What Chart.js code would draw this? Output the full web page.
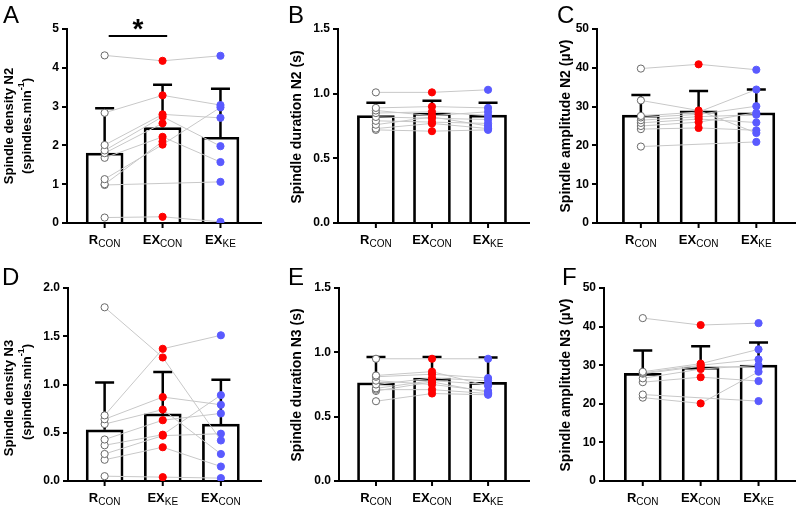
<!DOCTYPE html>
<html>
<head>
<meta charset="utf-8">
<script src="https://cdn.jsdelivr.net/npm/chart.js@4.4.1/dist/chart.umd.min.js"></script>
<style>
body { margin: 0; background: #fff; width: 800px; height: 506px; position: relative; overflow: hidden; }
canvas { position: absolute; }
</style>
</head>
<body>
<script>
// category labels (main text + subscript)
var catMain = ['R', 'EX', 'EX'];
var catSub = ['CON', 'CON', 'KE'];
var catSubD = ['CON', 'KE', 'CON'];

// A - spindle density N2 (per subject, columns in axis order)
var aCol1 = [4.32, 2.84, 2.01, 1.87, 1.80, 1.68, 1.13, 1.00, 0.98, 0.14];
var aCol2 = [4.18, 3.29, 2.80, 2.74, 2.57, 2.22, 2.02, 2.10, null, 0.16];
var aCol3 = [4.31, 3.04, 2.71, 1.98, null, 1.57, 2.98, null, 1.06, 0.03];
var aMean = [1.80, 2.46, 2.21];
var aSd = [1.16, 1.10, 1.25];

// B - spindle duration N2
var bCol1 = [1.01, 0.89, 0.87, 0.85, 0.82, 0.79, 0.76, 0.73, 0.72];
var bCol2 = [1.01, 0.90, 0.83, 0.86, 0.81, 0.78, 0.82, 0.77, 0.71];
var bCol3 = [1.03, 0.89, 0.86, 0.83, 0.80, 0.77, 0.75, 0.73, 0.72];
var bMean = [0.83, 0.85, 0.835];
var bSd = [0.10, 0.095, 0.095];

// C - spindle amplitude N2
var cCol1 = [39.8, 31.6, 27.6, 27.2, 26.5, 25.8, 25.0, 24.2, 19.7];
var cCol2 = [40.9, 29.0, 28.6, 28.0, 27.4, 26.8, 26.0, 24.5, null];
var cCol3 = [39.5, 23.2, 34.4, 30.1, 27.9, 25.9, 28.4, 23.9, 20.9];
var cMean = [27.8, 28.9, 28.4];
var cSd = [5.2, 5.1, 6.0];

// D - spindle density N3 (order R_CON, EX_KE, EX_CON)
var dCol1 = [1.80, 0.68, 0.64, 0.59, 0.43, 0.37, 0.28, 0.22, 0.05];
var dCol2 = [1.28, 1.37, 0.87, 0.74, 0.63, 0.48, 0.47, 0.35, 0.04];
var dCol3 = [0.42, 1.51, 0.79, 0.28, 0.70, 0.89, 0.49, 0.15, 0.03];
var dMean = [0.53, 0.695, 0.59];
var dSd = [0.49, 0.435, 0.46];

// E - spindle duration N3
var eCol1 = [0.95, 0.82, 0.81, 0.78, 0.75, 0.72, 0.71, 0.70, 0.62];
var eCol2 = [0.95, 0.85, 0.83, 0.75, 0.80, 0.78, 0.71, 0.77, 0.68];
var eCol3 = [0.95, 0.74, 0.80, 0.70, 0.78, 0.75, 0.68, 0.69, 0.67];
var eMean = [0.763, 0.80, 0.766];
var eSd = [0.20, 0.163, 0.194];

// F - spindle amplitude N3
var fCol1 = [42.2, 28.3, 28.0, 27.8, 26.6, 25.6, 22.4, 21.6];
var fCol2 = [40.4, 30.4, 30.0, 29.7, 29.0, 26.9, null, 20.1];
var fCol3 = [40.9, 34.1, 31.5, 29.4, 30.0, 25.9, 20.7, 28.3];
var fMean = [27.9, 29.5, 30.0];
var fSd = [5.9, 5.4, 5.9];

var FF = '"Liberation Sans", Arial, sans-serif';
var ptFill = ['#ffffff', '#ff0000', '#5a5aff'];
var ptEdge = ['#6a6a6a', '#ff0000', '#5a5aff'];

function plain(txt, size) { return [{t: txt, f: 'bold ' + size + 'px ' + FF, dy: 0}]; }
var densityLine2 = [{t: '(spindles.min', f: 'bold 13px ' + FF, dy: 0}, {t: '-1', f: 'bold 9px ' + FF, dy: -5}, {t: ')', f: 'bold 13px ' + FF, dy: 0}];

var panels = [
    {letter: 'A', box: [0, 0, 266, 253], axisX: 67, top: 29, bottom: 223, right: 263, xr: [-0.65, 2.70],
     ymax: 5, step: 1, dec: 0, cols: [aCol1, aCol2, aCol3], mean: aMean, sd: aSd, sub: catSub,
     titles: [[plain('Spindle density N2', 13), 9, 126], [densityLine2, 27, 126]], lx: 3, ly: 23, sig: {from: 0.07, to: 1.08, y: 4.82}},
    {letter: 'B', box: [266, 0, 268, 253], axisX: 338, top: 29, bottom: 223, right: 533, xr: [-0.675, 2.73],
     ymax: 1.5, step: 0.5, dec: 1, cols: [bCol1, bCol2, bCol3], mean: bMean, sd: bSd, sub: catSub,
     titles: [[plain('Spindle duration N2 (s)', 14), 297, 127]], lx: 288, ly: 23},
    {letter: 'C', box: [534, 0, 266, 253], axisX: 597, top: 29, bottom: 223, right: 797, xr: [-0.76, 2.67],
     ymax: 50, step: 10, dec: 0, cols: [cCol1, cCol2, cCol3], mean: cMean, sd: cSd, sub: catSub,
     titles: [[plain('Spindle amplitude N2 (\u00b5V)', 14), 566, 126]], lx: 557, ly: 23},
    {letter: 'D', box: [0, 253, 266, 253], axisX: 68, top: 288, bottom: 481, right: 263, xr: [-0.63, 2.69],
     ymax: 2, step: 0.5, dec: 1, cols: [dCol1, dCol2, dCol3], mean: dMean, sd: dSd, sub: catSubD,
     titles: [[plain('Spindle density N3', 13), 9, 398], [densityLine2, 27, 392]], lx: 2, ly: 285},
    {letter: 'E', box: [266, 253, 268, 253], axisX: 339, top: 288, bottom: 481, right: 533, xr: [-0.66, 2.73],
     ymax: 1.5, step: 0.5, dec: 1, cols: [eCol1, eCol2, eCol3], mean: eMean, sd: eSd, sub: catSub,
     titles: [[plain('Spindle duration N3 (s)', 14), 297, 385]], lx: 288, ly: 285},
    {letter: 'F', box: [534, 253, 266, 253], axisX: 604, top: 288, bottom: 481, right: 797, xr: [-0.67, 2.63],
     ymax: 50, step: 10, dec: 0, cols: [fCol1, fCol2, fCol3], mean: fMean, sd: fSd, sub: catSub,
     titles: [[plain('Spindle amplitude N3 (\u00b5V)', 14), 566, 385]], lx: 562, ly: 285}
];

// draw a run of text pieces centred on x
function drawRich(ctx, parts, x, y) {
    var total = 0;
    parts.forEach(function (p) { ctx.font = p.f; total += ctx.measureText(p.t).width; });
    var cur = x - total / 2;
    ctx.textAlign = 'left';
    parts.forEach(function (p) {
        ctx.font = p.f;
        ctx.fillText(p.t, cur, y + p.dy);
        cur += ctx.measureText(p.t).width;
    });
}

function decor(p) {
    return {
        id: 'decor' + p.letter,
        afterDatasetDraw: function (chart, args) {
            if (args.index !== 0) return;
            var ctx = chart.ctx, ys = chart.scales.y, meta = chart.getDatasetMeta(0);
            ctx.save();
            ctx.strokeStyle = '#000';
            ctx.lineWidth = 2.5;
            p.mean.forEach(function (m, i) {
                var x = meta.data[i].x;
                var y0 = ys.getPixelForValue(m), y1 = ys.getPixelForValue(m + p.sd[i]);
                ctx.beginPath();
                ctx.moveTo(x, y0); ctx.lineTo(x, y1);
                ctx.moveTo(x - 9.5, y1); ctx.lineTo(x + 9.5, y1);
                ctx.stroke();
            });
            ctx.restore();
        },
        afterDraw: function (chart) {
            var ctx = chart.ctx, xs = chart.scales.x, ys = chart.scales.y, area = chart.chartArea;
            ctx.save();
            ctx.fillStyle = '#000';
            ctx.strokeStyle = '#000';
            ctx.lineWidth = 2;
            ctx.textBaseline = 'alphabetic';
            for (var i = 0; i < 3; i++) {
                var px = xs.getPixelForValue(i);
                ctx.beginPath();
                ctx.moveTo(px, area.bottom); ctx.lineTo(px, area.bottom + 5);
                ctx.stroke();
                drawRich(ctx, [{t: catMain[i], f: 'bold 13px ' + FF, dy: 0},
                               {t: p.sub[i], f: '10px ' + FF, dy: 2.5}], px, area.bottom + 21);
            }
            p.titles.forEach(function (tl) {
                ctx.save();
                ctx.translate(tl[1] - p.box[0], tl[2] - p.box[1]);
                ctx.rotate(-Math.PI / 2);
                ctx.textBaseline = 'middle';
                drawRich(ctx, tl[0], 0, 0);
                ctx.restore();
            });
            ctx.textBaseline = 'alphabetic';
            ctx.textAlign = 'left';
            ctx.font = '24px ' + FF;
            ctx.fillText(p.letter, p.lx - p.box[0], p.ly - p.box[1]);
            if (p.sig) {
                var sy = ys.getPixelForValue(p.sig.y);
                var sx0 = xs.getPixelForValue(p.sig.from), sx1 = xs.getPixelForValue(p.sig.to);
                ctx.beginPath();
                ctx.moveTo(sx0, sy); ctx.lineTo(sx1, sy);
                ctx.stroke();
                ctx.font = 'bold 28px ' + FF;
                ctx.textAlign = 'center';
                ctx.fillText('*', (sx0 + sx1) / 2, sy + 2);
            }
            ctx.restore();
        }
    };
}

function makePanel(p) {
    var cv = document.createElement('canvas');
    cv.width = p.box[2];
    cv.height = p.box[3];
    cv.style.left = p.box[0] + 'px';
    cv.style.top = p.box[1] + 'px';
    document.body.appendChild(cv);

    var datasets = [{
        type: 'bar',
        data: p.mean.map(function (m, i) { return {x: i, y: m}; }),
        backgroundColor: '#ffffff',
        borderColor: '#000000',
        borderWidth: 2.7,
        borderSkipped: 'start',
        barThickness: 37,
        order: 2
    }];
    var n = p.cols[0].length;
    for (var s = 0; s < n; s++) {
        var pts = [];
        for (var c = 0; c < 3; c++) {
            var v = p.cols[c][s];
            if (v !== null) pts.push({x: c, y: v});
        }
        datasets.push({
            type: 'line',
            data: pts,
            borderColor: '#c8c8c8',
            borderWidth: 1,
            fill: false,
            tension: 0,
            pointRadius: 3.6,
            pointBorderWidth: 1,
            pointBackgroundColor: function (ctx) { return ctx.raw ? ptFill[ctx.raw.x] : '#fff'; },
            pointBorderColor: function (ctx) { return ctx.raw ? ptEdge[ctx.raw.x] : '#666'; },
            order: 1
        });
    }

    new Chart(cv, {
        type: 'bar',
        data: {datasets: datasets},
        options: {
            responsive: false,
            animation: false,
            events: [],
            layout: {padding: {left: 0, top: p.top - p.box[1], right: p.box[0] + p.box[2] - p.right, bottom: 0}},
            plugins: {legend: {display: false}, tooltip: {enabled: false}},
            scales: {
                x: {
                    type: 'linear', min: p.xr[0], max: p.xr[1], offset: false,
                    grid: {display: false},
                    ticks: {display: false},
                    border: {display: true, color: '#000', width: 2},
                    afterFit: function (sc) { sc.height = p.box[1] + p.box[3] - p.bottom; }
                },
                y: {
                    min: 0, max: p.ymax,
                    ticks: {stepSize: p.step, color: '#000', padding: 3,
                            font: {family: FF, size: 12, weight: 'bold'},
                            callback: function (v) { return v.toFixed(p.dec); }},
                    grid: {drawOnChartArea: false, drawTicks: true, tickLength: 5, color: '#000', lineWidth: 2},
                    border: {display: true, color: '#000', width: 2},
                    afterFit: function (sc) { sc.width = p.axisX - p.box[0]; }
                }
            }
        },
        plugins: [decor(p)]
    });
}

panels.forEach(makePanel);
</script>
</body>
</html>
